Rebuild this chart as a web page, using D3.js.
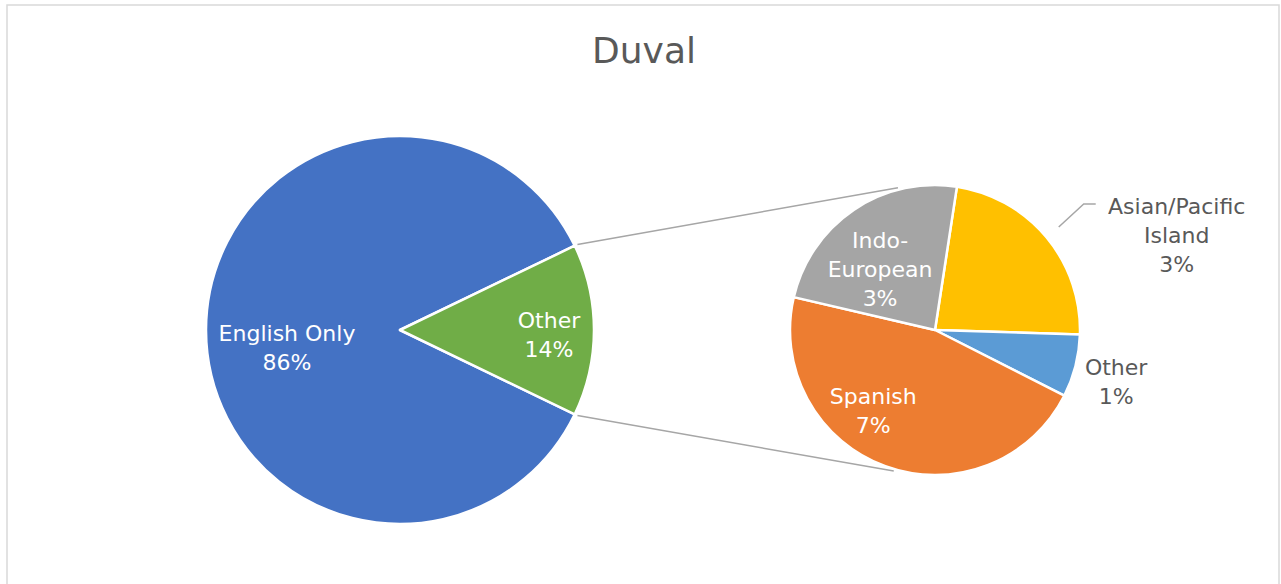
<!DOCTYPE html>
<html>
<head>
<meta charset="utf-8">
<script src="https://cdn.jsdelivr.net/npm/d3@7"></script>
<style>
  body { margin: 0; background: #fff; }
  svg { display: block; font-family: "DejaVu Sans", sans-serif; }
</style>
</head>
<body>
<svg id="chart" width="1281" height="584"></svg>
<script>
// main pie
const mainNames = ["English Only", "Other"];
const mainValues = [85.7, 14.3];
const mainLabels = ["86%", "14%"];
const mainColors = ["#4472c4", "#70ad47"];

// breakdown of "Other" (second pie), clockwise from the top
const subNames = [["Asian/Pacific", "Island"], ["Other"], ["Spanish"], ["Indo-", "European"]];
const subValues = [3.3, 1.0, 6.6, 3.4];
const subLabels = ["3%", "1%", "7%", "3%"];
const subColors = ["#ffc000", "#5b9bd5", "#ed7d31", "#a5a5a5"];

const svg = d3.select("#chart");
const deg = Math.PI / 180;

// frame
svg.append("rect")
  .attr("x", 7).attr("y", 5)
  .attr("width", 1272).attr("height", 600)
  .attr("fill", "none").attr("stroke", "#d9d9d9").attr("stroke-width", 1.5);

svg.append("text")
  .attr("x", 644).attr("y", 63)
  .attr("text-anchor", "middle")
  .attr("font-size", 36)
  .attr("fill", "#595959")
  .text("Duval");

const c1 = { x: 400, y: 330, r: 194 };
const c2 = { x: 935, y: 330, r: 145 };

// main pie: the "Other" slice sits centred on the right side
const otherAngle = mainValues[1] / d3.sum(mainValues) * 2 * Math.PI;
const pie1 = d3.pie().sort(null)
  .startAngle(Math.PI / 2 + otherAngle / 2)
  .endAngle(Math.PI / 2 + otherAngle / 2 + 2 * Math.PI);
const arcs1 = pie1(mainValues);
const arc1 = d3.arc().innerRadius(0).outerRadius(c1.r);

const g1 = svg.append("g").attr("transform", `translate(${c1.x},${c1.y})`);
g1.selectAll("path")
  .data(arcs1)
  .enter()
  .append("path")
  .attr("d", arc1)
  .attr("fill", (d, i) => mainColors[i])
  .attr("stroke", "#fff")
  .attr("stroke-width", 2.5)
  .attr("stroke-linejoin", "round");

// second pie
const pie2 = d3.pie().sort(null)
  .startAngle(8.7 * deg)
  .endAngle(8.7 * deg + 2 * Math.PI);
const arcs2 = pie2(subValues);
const arc2 = d3.arc().innerRadius(0).outerRadius(c2.r);

const g2 = svg.append("g").attr("transform", `translate(${c2.x},${c2.y})`);
g2.selectAll("path")
  .data(arcs2)
  .enter()
  .append("path")
  .attr("d", arc2)
  .attr("fill", (d, i) => subColors[i])
  .attr("stroke", "#fff")
  .attr("stroke-width", 2.5)
  .attr("stroke-linejoin", "round");

// connector lines from the edges of the "Other" slice to the second pie
const polar = (c, r, a) => [c.x + r * Math.sin(a), c.y - r * Math.cos(a)];
const other = arcs1[1];
const joins = [
  [polar(c1, c1.r + 3, other.startAngle), polar(c2, c2.r + 2, 345.4 * deg)],
  [polar(c1, c1.r + 3, other.endAngle), polar(c2, c2.r + 2, 196.3 * deg)]
];
svg.selectAll(".join")
  .data(joins)
  .enter()
  .append("line")
  .attr("class", "join")
  .attr("x1", d => d[0][0]).attr("y1", d => d[0][1])
  .attr("x2", d => d[1][0]).attr("y2", d => d[1][1])
  .attr("stroke", "#a6a6a6")
  .attr("stroke-width", 1.5);

// label placement: radius from the centre along the slice middle, plus nudges
const lineH = 29;
function drawLabel(g, pos, lines, color) {
  const t = g.append("text")
    .attr("text-anchor", "middle")
    .attr("font-size", 22)
    .attr("fill", color);
  const top = pos[1] - (lines.length - 1) * lineH / 2 + 7;
  lines.forEach((s, i) => {
    t.append("tspan").attr("x", pos[0]).attr("y", top + i * lineH).text(s);
  });
}
function labelPos(d, r, dx, dy) {
  const c = d3.arc().innerRadius(r).outerRadius(r).centroid(d);
  return [c[0] + dx, c[1] + dy];
}

const mainLayout = [{ r: 113, dx: 0, dy: 18 }, { r: 149, dx: 0, dy: 5 }];
arcs1.forEach((d, i) => {
  const l = mainLayout[i];
  drawLabel(g1, labelPos(d, l.r, l.dx, l.dy), [mainNames[i], mainLabels[i]], "#fff");
});

const subLayout = [
  { r: 200, dx: 88, dy: 34, color: "#595959" },
  { r: 187, dx: 0, dy: 6, color: "#595959" },
  { r: 87, dx: -32, dy: 0, color: "#fff" },
  { r: 73, dx: -14, dy: 0, color: "#fff" }
];
arcs2.forEach((d, i) => {
  const l = subLayout[i];
  drawLabel(g2, labelPos(d, l.r, l.dx, l.dy), subNames[i].concat([subLabels[i]]), l.color);
});

// leader line for the Asian/Pacific label
const a = arcs2[0];
const mid = (a.startAngle + a.endAngle) / 2;
const p0 = polar(c2, c2.r * 1.11, mid);
svg.append("polyline")
  .attr("points", [p0, [p0[0] + 25, 204], [p0[0] + 37, 204]].map(p => p.join(",")).join(" "))
  .attr("fill", "none")
  .attr("stroke", "#a6a6a6")
  .attr("stroke-width", 1.5);
</script>
</body>
</html>
